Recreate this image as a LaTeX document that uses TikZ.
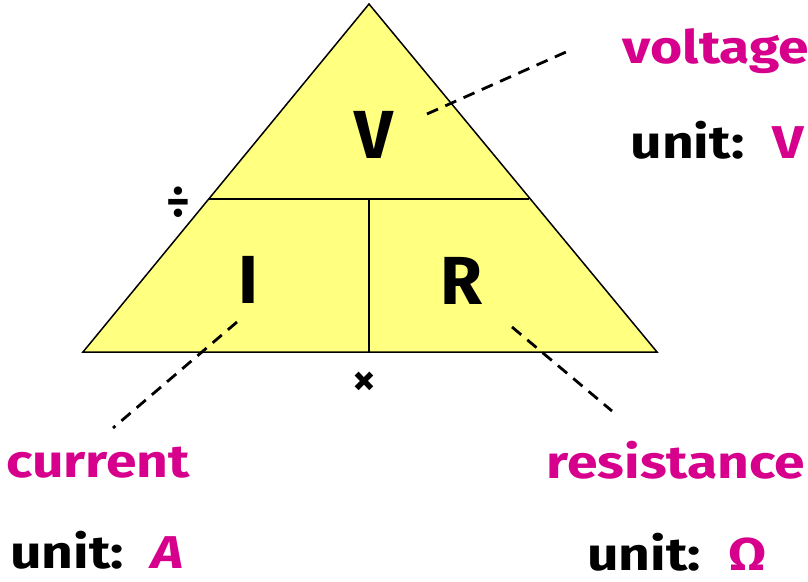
\documentclass[tikz,border=0pt]{standalone}
\usepackage{fontspec}
\setmainfont{Fira Sans}
\newfontfamily\widefont[FakeStretch=1.2]{Fira Sans}
\definecolor{mag}{RGB}{214,0,140}
\definecolor{tri}{RGB}{255,255,128}
\begin{document}
\begin{tikzpicture}[x=1pt,y=-1pt,
  lbl/.style={font=\widefont\fontsize{46}{50}\selectfont\bfseries, text=mag, inner sep=0pt, anchor=base},
  unitlbl/.style={font=\widefont\fontsize{46}{50}\selectfont\bfseries, inner sep=0pt, anchor=base},
  big/.style={font=\fontsize{68}{70}\selectfont\bfseries, inner sep=0pt, anchor=base},
  sym/.style={font=\fontsize{46}{48}\selectfont\bfseries, inner sep=0pt},
  lead/.style={line width=2.8pt, dash pattern=on 12pt off 8pt}]
\useasboundingbox (0,0) rectangle (808,581);
\coordinate (top) at (369,4);
\coordinate (bl) at (83,352);
\coordinate (br) at (657,352);
\coordinate (ml) at (208.7,199);
\coordinate (mr) at (529.3,199);
\coordinate (mm) at (369,199);
\coordinate (mb) at (369,352);
\filldraw[fill=tri, line width=1.5pt, line join=miter] (top) -- (br) -- (bl) -- cycle;
\draw[line width=1.5pt] (ml) -- (mr);
\draw[line width=1.5pt] (mm) -- (mb);
\node[big] (V) at (374,158) {V};
\node[big] (I) at (248,303) {I};
\node[big] (R) at (461,304) {R};
\node[sym] (div) at (178,202) {÷};
\node[sym] (times) at (364,384) {×};
\coordinate (v1) at (427,114); \coordinate (v2) at (566,52);
\coordinate (c1) at (237,322); \coordinate (c2) at (113,428);
\coordinate (r1) at (512,327); \coordinate (r2) at (612,411);
\draw[lead] (v1) -- (v2);
\draw[lead] (c1) -- (c2);
\draw[lead] (r1) -- (r2);
\node[lbl] (volt) at (716,63) {voltage};
\node[unitlbl] (uv) at (717,158) {unit:\hspace{0.6em}\textcolor{mag}{V}};
\node[lbl] (cur) at (98,477) {current};
\node[unitlbl] (ua) at (97,568) {unit:\hspace{0.6em}\textcolor{mag}{\itshape A}};
\node[lbl] (res) at (676,478) {resistance};
\node[unitlbl] (uo) at (677,570) {unit:\hspace{0.6em}\textcolor{mag}{Ω}};
\end{tikzpicture}
\end{document}
